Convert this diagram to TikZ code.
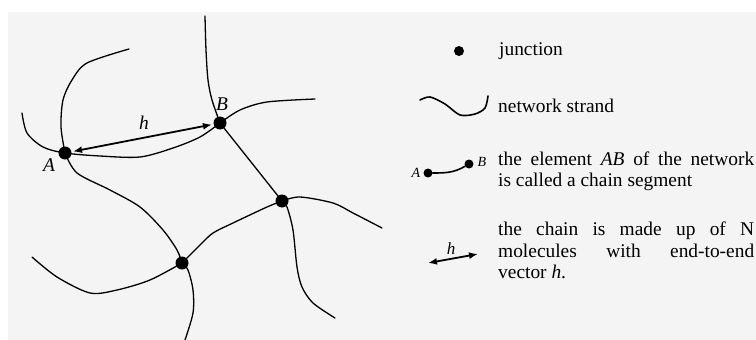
\documentclass[tikz,border=0pt]{standalone}
\usepackage{fontspec}
\setmainfont{Liberation Serif}
\usetikzlibrary{arrows.meta}
\definecolor{paper}{HTML}{F4F4F4}
\tikzset{
  strand/.style={line width=1.3pt, line cap=round},
  legstrand/.style={line width=1.6pt, line cap=round},
  junction/.style={circle, fill=black, inner sep=0pt, minimum size=13pt},
  smalldot/.style={circle, fill=black, inner sep=0pt, minimum size=10pt},
  vecarrow/.style={line width=1.8pt, {Latex[length=9pt,width=7pt]}-{Latex[length=9pt,width=7pt]}},
  lbl/.style={font=\fontsize{19.4}{21.5}\selectfont\itshape, inner sep=0pt},
  smalllbl/.style={font=\fontsize{14}{16}\selectfont\itshape, inner sep=0pt},
  legtext/.style={font=\fontsize{19.4}{21.5}\selectfont, inner sep=0pt, anchor=base west}
}
\newcommand{\fullline}[1]{\makebox[256pt][s]{#1}}
\begin{document}
\begin{tikzpicture}[x=1pt,y=-1pt]
  \useasboundingbox (0,0) rectangle (756,340);
  \fill[white] (0,0) rectangle (756,340);
  \fill[paper] (8,12) rectangle (756,340);

  % junction positions
  \coordinate (A) at (65,153);
  \coordinate (B) at (220,123);
  \coordinate (C) at (282,201);
  \coordinate (D) at (182,263);

  % network strands
  \draw[strand] plot[smooth] coordinates {(129,49) (87,63) (72,80) (63,100) (61,127) (A)};
  \draw[strand] plot[smooth] coordinates {(22,113) (27,133) (43,147) (A) (100,156) (140,157) (173,148) (200,137) (B)};
  \draw[strand] plot[smooth] coordinates {(A) (77,173) (110,190) (140,207) (163,230) (177,250) (D)};
  \draw[strand] plot[smooth] coordinates {(205,16) (206,50) (208,80) (212,100) (B)};
  \draw[strand] plot[smooth] coordinates {(B) (240,110) (267,102) (315,99)};
  \draw[strand] (B) -- (C);
  \draw[strand] plot[smooth] coordinates {(C) (300,197) (333,203) (353,213) (382,228)};
  \draw[strand] plot[smooth] coordinates {(C) (287,207) (293,230) (297,267) (302,287) (313,303) (335,318)};
  \draw[strand] plot[smooth] coordinates {(C) (267,207) (233,223) (213,233) (200,245) (D)};
  \draw[strand] plot[smooth] coordinates {(32,257) (57,277) (90,293) (117,290) (150,280) (D)};
  \draw[strand] plot[smooth] coordinates {(D) (188,270) (193,290) (193,313) (185,340)};

  % junctions
  \node[junction] (jA) at (A) {};
  \node[junction] (jB) at (B) {};
  \node[junction] (jC) at (C) {};
  \node[junction] (jD) at (D) {};

  % end-to-end vector
  \draw[vecarrow, shorten <=1.5pt, shorten >=1.5pt] (jA) -- (jB);
  \node[lbl] (hlbl) at (144,123) {h};
  \node[lbl] (Albl) at (49,165) {A};
  \node[lbl] (Blbl) at (222,104) {B};

  % legend: junction
  \node[smalldot] (legdot) at (459,51) {};
  \node[legtext] (t1) at (499,56) {junction};

  % legend: network strand
  \draw[legstrand] plot[smooth] coordinates {(420,100) (430,97) (445,104) (460,115) (475,114) (485,108) (488,96)};
  \node[legtext] (t2) at (498,112) {network strand};

  % legend: chain segment
  \node[smalldot, minimum size=9pt] (segA) at (428,173) {};
  \node[smalldot, minimum size=9pt] (segB) at (469,164) {};
  \draw[legstrand] (segA) to[out=0,in=-150] (segB);
  \node[smalllbl] (sA) at (416,173) {A};
  \node[smalllbl] (sB) at (482,162) {B};
  \node[legtext] (t3a) at (498,165) {\fullline{the element \textit{AB} of the network}};
  \node[legtext] (t3b) at (498,186) {is called a chain segment};

  % legend: end-to-end vector
  \coordinate (vl) at (428,263);
  \coordinate (vr) at (478,254);
  \draw[vecarrow] (vl) -- (vr);
  \node[smalllbl, font=\fontsize{17}{19}\selectfont\itshape] (vh) at (451,249) {h};
  \node[legtext] (t4a) at (498,235) {\fullline{the chain is made up of N}};
  \node[legtext] (t4b) at (498,257) {\fullline{molecules with end-to-end}};
  \node[legtext] (t4c) at (498,278) {vector \textit{h}.};
\end{tikzpicture}
\end{document}
